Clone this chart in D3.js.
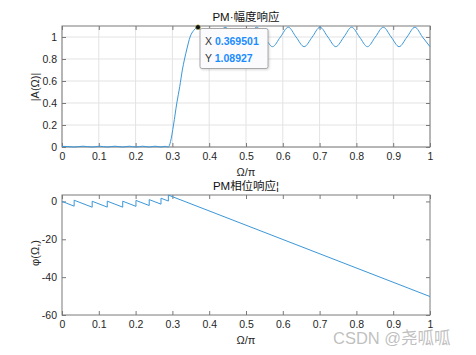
<!DOCTYPE html>
<html><head><meta charset="utf-8">
<script src="https://cdn.jsdelivr.net/npm/d3@7"></script>
<style>
body{margin:0;background:#fff;}
text{font-family:"Liberation Sans",Arial,"Noto Sans CJK SC",sans-serif;}
</style></head>
<body>
<svg id="c" width="476" height="355"></svg>
<script>
// ---- data ----
const xTicks = [0,0.1,0.2,0.3,0.4,0.5,0.6,0.7,0.8,0.9,1];
const xTickLabels = ["0","0.1","0.2","0.3","0.4","0.5","0.6","0.7","0.8","0.9","1"];
const ampTicks = [0,0.2,0.4,0.6,0.8,1];
const ampTickLabels = ["0","0.2","0.4","0.6","0.8","1"];
const phTicks = [-60,-40,-20,0];
const phTickLabels = ["-60","-40","-20","0"];

// amplitude response |A(Ω)|
const ampX = [0,0.016,0.033,0.057,0.082,0.102,0.123,0.144,0.165,0.183,0.201,0.219,0.237,0.253,0.269,0.280,0.289,
  0.295,0.303,0.312,0.320,0.327,0.333,0.340,0.348,0.358,0.3695,
  0.387,0.405,0.424,0.443,0.4645,0.486,0.5075,0.529,0.5505,0.572,0.5935,0.615,0.636,0.658,0.680,0.701,
  0.7225,0.744,0.766,0.787,0.8085,0.830,0.8515,0.873,0.8945,0.916,0.9375,0.959,0.9795,1.0];
const ampY = [0.006,0.004,0,0.007,0,0.007,0,0.007,0,0.007,0,0.007,0,0.007,0,0.006,0,
  0.05,0.2,0.4,0.55,0.7,0.8,0.9,1.0,1.06,1.089,
  1.0,0.912,1.0,1.089,1.0,0.912,1.0,1.089,1.0,0.912,1.0,1.089,1.0,0.912,1.0,1.089,
  1.0,0.912,1.0,1.089,1.0,0.912,1.0,1.089,1.0,0.912,1.0,1.089,1.0,0.912];

// phase response φ(Ω)
const phX = [0,0.033,0.033,0.082,0.082,0.123,0.123,0.165,0.165,0.201,0.201,0.237,0.237,0.269,0.269,0.289,0.289,1.0];
const phY = [0,-2.5,0.64,-3.05,0.09,-3.0,0.14,-3.03,0.11,-2.6,0.54,-2.17,0.97,-1.44,1.70,0.2,3.35,-50.25];

const tipX = 0.369501, tipY = 1.08927;

// ---- drawing ----
const svg = d3.select("#c");
const L = 62, R = 430;
const lineColor = "#3b97d8";
const boxColor = "#7a7a7a";
const txtColor = "#262626";

function panel(top, bottom, ydom, yt, ytl, grid) {
  const x = d3.scaleLinear().domain([0,1]).range([L,R]);
  const y = d3.scaleLinear().domain(ydom).range([bottom, top]);
  const g = svg.append("g");
  if (grid) {
    g.selectAll(".gx").data(xTicks).join("line")
      .attr("x1", d=>x(d)).attr("x2", d=>x(d)).attr("y1", top).attr("y2", bottom)
      .attr("stroke", "#e3e3e3").attr("stroke-width", 1);
    g.selectAll(".gy").data(yt).join("line")
      .attr("y1", d=>y(d)).attr("y2", d=>y(d)).attr("x1", L).attr("x2", R)
      .attr("stroke", "#e3e3e3").attr("stroke-width", 1);
  }
  const fmtX = d => xTickLabels[xTicks.indexOf(d)];
  const fmtY = d => ytl[yt.indexOf(d)];
  const ax = g.append("g").attr("transform", `translate(0,${bottom})`)
    .call(d3.axisBottom(x).tickValues(xTicks).tickFormat(fmtX).tickSizeInner(-4).tickSizeOuter(0).tickPadding(6));
  const axT = g.append("g").attr("transform", `translate(0,${top})`)
    .call(d3.axisTop(x).tickValues(xTicks).tickFormat("").tickSizeInner(-4).tickSizeOuter(0));
  const ay = g.append("g").attr("transform", `translate(${L},0)`)
    .call(d3.axisLeft(y).tickValues(yt).tickFormat(fmtY).tickSizeInner(-4).tickSizeOuter(0).tickPadding(5));
  const ayR = g.append("g").attr("transform", `translate(${R},0)`)
    .call(d3.axisRight(y).tickValues(yt).tickFormat("").tickSizeInner(-4).tickSizeOuter(0));
  [ax,axT,ay,ayR].forEach(a=>{
    a.select(".domain").remove();
    a.selectAll("line").attr("stroke", boxColor);
    a.selectAll("text").attr("fill", txtColor).style("font-size","10.5px");
  });
  g.append("rect").attr("x", L).attr("y", top).attr("width", R-L).attr("height", bottom-top)
    .attr("fill","none").attr("stroke", boxColor).attr("stroke-width",1);
  return {x, y, g};
}

// top panel
const p1 = panel(26, 147, [0,1.1], ampTicks, ampTickLabels, true);
const ampData = ampX.map((d,i)=>[d, ampY[i]]);
p1.g.append("path").datum(ampData)
  .attr("d", d3.line().x(d=>p1.x(d[0])).y(d=>p1.y(d[1])).curve(d3.curveMonotoneX))
  .attr("fill","none").attr("stroke", lineColor).attr("stroke-width",1);

// bottom panel
const p2 = panel(195, 315, [-60,3.4], phTicks, phTickLabels, false);
const phData = phX.map((d,i)=>[d, phY[i]]);
p2.g.append("path").datum(phData)
  .attr("d", d3.line().x(d=>p2.x(d[0])).y(d=>p2.y(d[1])))
  .attr("fill","none").attr("stroke", lineColor).attr("stroke-width",1);

// titles & labels
svg.append("text").attr("x", 246).attr("y", 21).attr("text-anchor","middle")
  .style("font-size","11.5px").attr("fill","#111").text("PM·幅度响应");
svg.append("text").attr("x", 246).attr("y", 190).attr("text-anchor","middle")
  .style("font-size","11.5px").attr("fill","#111").text("PM相位响应¦");
svg.append("text").attr("x", 246).attr("y", 176).attr("text-anchor","middle")
  .style("font-size","11px").attr("fill",txtColor).text("Ω/π");
svg.append("text").attr("x", 246).attr("y", 344).attr("text-anchor","middle")
  .style("font-size","11px").attr("fill",txtColor).text("Ω/π");
svg.append("text").attr("transform","translate(35,87) rotate(-90)").attr("dy","0.35em")
  .attr("text-anchor","middle").style("font-size","11px").attr("fill",txtColor).text("|A(Ω)|");
svg.append("text").attr("transform","translate(35,253) rotate(-90)").attr("dy","0.35em")
  .attr("text-anchor","middle").style("font-size","11px").attr("fill",txtColor).text("φ(Ω,)");

// data tip
const tx = p1.x(tipX), ty = p1.y(tipY);
svg.append("rect").attr("x", 200).attr("y", 28.5).attr("width", 68).attr("height", 40)
  .attr("rx", 2).attr("fill","#fbfbfe").attr("stroke","#a8a8a8").attr("stroke-width",1)
  .style("filter","drop-shadow(1px 1px 1px rgba(0,0,0,0.15))");
svg.append("circle").attr("cx", tx).attr("cy", ty).attr("r", 2.5).attr("fill","#111")
  .attr("stroke","#d8d870").attr("stroke-width",0.5);
const t1 = svg.append("text").attr("x", 205).attr("y", 45).style("font-size","10.5px");
t1.append("tspan").attr("fill","#333").text("X ");
t1.append("tspan").attr("fill","#1a8cff").style("font-weight","bold").text(String(tipX));
const t2 = svg.append("text").attr("x", 205).attr("y", 61.5).style("font-size","10.5px");
t2.append("tspan").attr("fill","#333").text("Y ");
t2.append("tspan").attr("fill","#1a8cff").style("font-weight","bold").text(String(tipY));

// watermark (overlaps the tick labels, as in the reference)
svg.append("text").attr("x", 333).attr("y", 344).style("font-size","16.5px")
  .style("font-family","'Liberation Sans','Noto Sans CJK SC',sans-serif")
  .attr("fill","#b4b4b4").attr("fill-opacity",0.85).text("CSDN @尧呱呱");
</script>
</body></html>
